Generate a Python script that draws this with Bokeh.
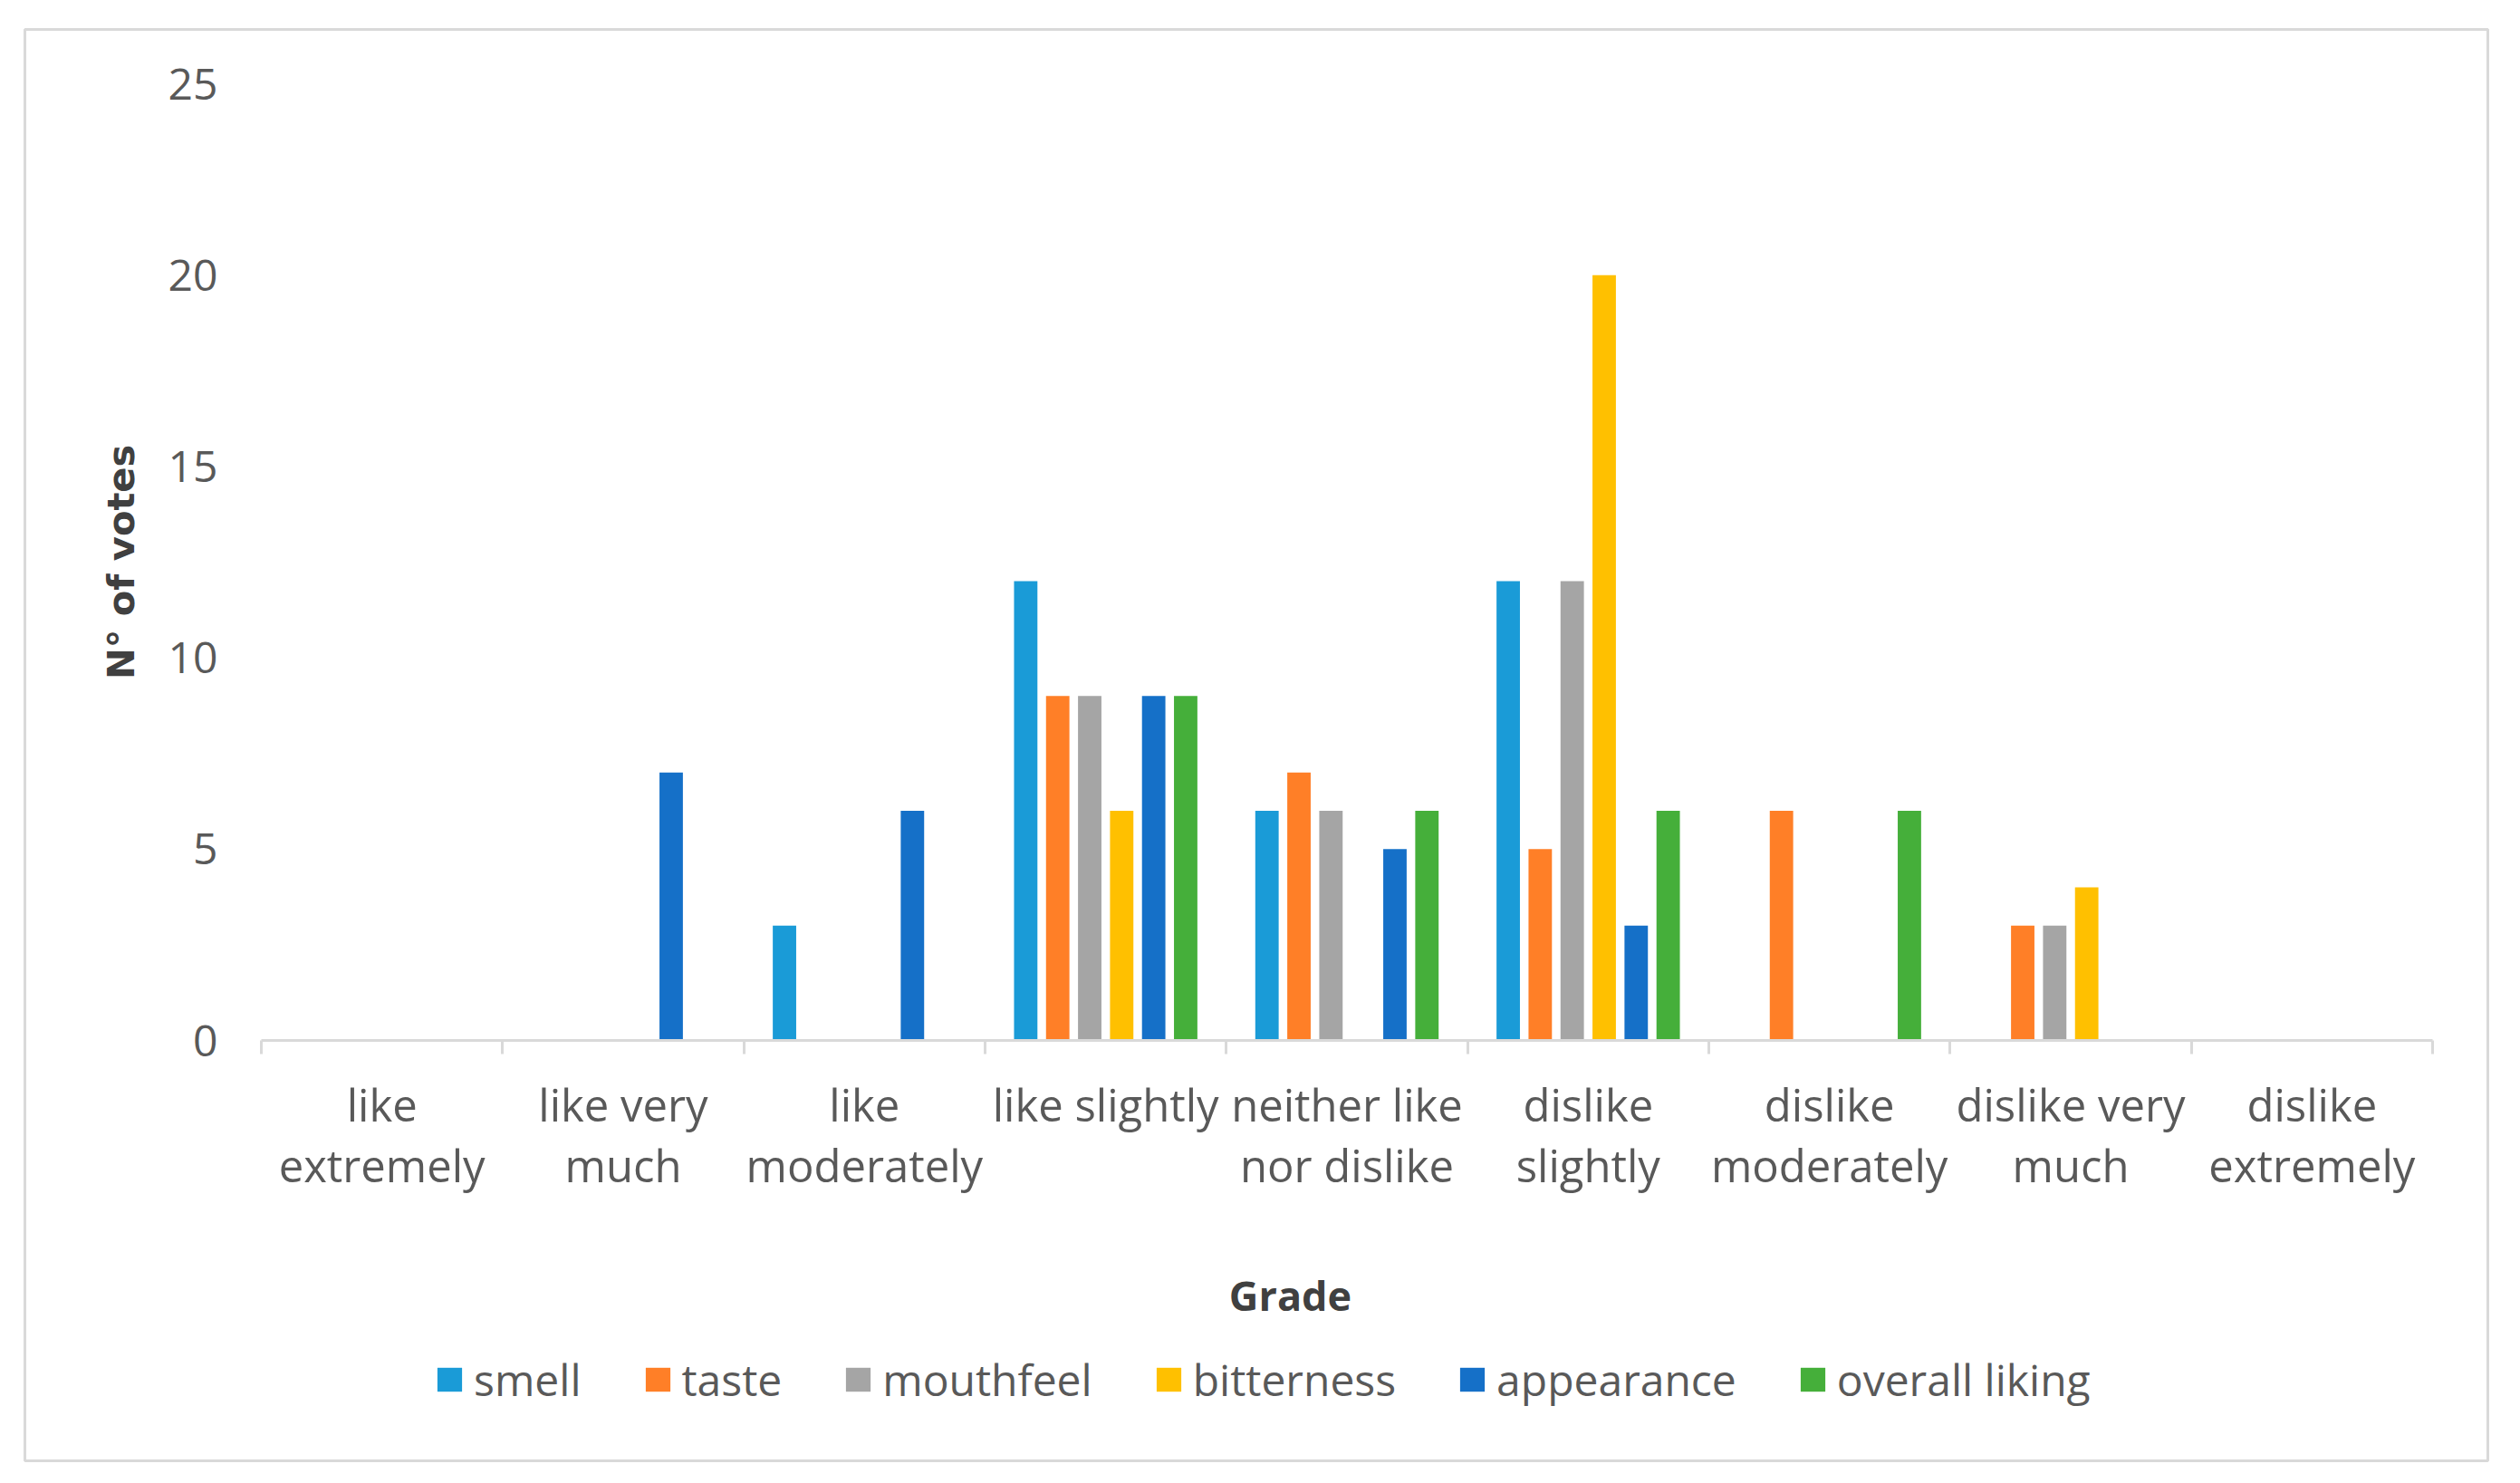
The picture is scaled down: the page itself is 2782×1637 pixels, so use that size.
import math
from bokeh.plotting import figure
from bokeh.models import Range1d, FixedTicker, ColumnDataSource, Legend, LegendItem, Label
from bokeh.transform import dodge
from bokeh.embed import file_html
from bokeh.resources import INLINE

categories = ["like extremely", "like very much", "like moderately", "like slightly",
              "neither like nor dislike", "dislike slightly", "dislike moderately",
              "dislike very much", "dislike extremely"]
category_labels = ["like\nextremely", "like very\nmuch", "like\nmoderately", "like slightly",
                   "neither like\nnor dislike", "dislike\nslightly", "dislike\nmoderately",
                   "dislike very\nmuch", "dislike\nextremely"]
series_names = ["smell", "taste", "mouthfeel", "bitterness", "appearance", "overall liking"]
smell = [0, 0, 3, 12, 6, 12, 0, 0, 0]
taste = [0, 0, 0, 9, 7, 5, 6, 3, 0]
mouthfeel = [0, 0, 0, 9, 6, 12, 0, 3, 0]
bitterness = [0, 0, 0, 6, 0, 20, 0, 4, 0]
appearance = [0, 7, 6, 9, 5, 3, 0, 0, 0]
overall_liking = [0, 0, 0, 9, 6, 6, 6, 0, 0]
y_ticks = [0, 5, 10, 15, 20, 25]
y_max = 25
colors = ["#1A9BD7", "#FF7F27", "#A5A5A5", "#FFC000", "#1570C8", "#45AF3A"]

series_values = [smell, taste, mouthfeel, bitterness, appearance, overall_liking]
n = len(categories)
centers = [i + 0.5 for i in range(n)]
data = {"x": centers}
for name, vals in zip(series_names, series_values):
    data[name] = vals
source = ColumnDataSource(data)

# layout (pixels): chart box and plotting area
W, H = 2766, 1621
box_l, box_t, box_r, box_b = 27, 32, 2746, 1612     # border box
area_l, area_r, area_t, area_b = 288, 2685, 92, 1148  # plotting area
px_x = (area_r - area_l) / n
px_y = (area_b - area_t) / y_max
x0 = -(area_l - box_l) / px_x
x1 = n + (box_r - area_r) / px_x
y0 = -(box_b - area_b) / px_y
y1 = y_max + (area_t - box_t) / px_y

p = figure(width=W, height=H, x_range=Range1d(x0, x1), y_range=Range1d(y0, y1),
           output_backend="svg", toolbar_location=None,
           min_border_left=box_l, min_border_right=W - box_r,
           min_border_top=box_t, min_border_bottom=H - box_b)
p.background_fill_color = "white"
p.border_fill_color = "white"
p.outline_line_color = "#D9D9D9"
p.outline_line_width = 3
p.grid.visible = False

step = 0.1326
bw = 0.097
renderers = []
for k, (name, col) in enumerate(zip(series_names, colors)):
    r = p.vbar(x=dodge("x", (k - 2.5) * step, range=None), top=name, width=bw,
               source=source, fill_color=col, line_color=None)
    renderers.append(r)

# x axis
xa = p.xaxis[0]
xa.fixed_location = 0
xa.bounds = (0, n)
xa.ticker = FixedTicker(ticks=centers, minor_ticks=list(range(n + 1)))
xa.major_label_overrides = {c: lab for c, lab in zip(centers, category_labels)}
xa.axis_line_color = "#D9D9D9"
xa.axis_line_width = 3
xa.major_tick_out = 0
xa.major_tick_in = 0
xa.minor_tick_out = 15
xa.minor_tick_in = 0
xa.minor_tick_line_color = "#D9D9D9"
xa.minor_tick_line_width = 3
xa.major_label_standoff = 22
xa.major_label_text_font = "Open Sans"
xa.major_label_text_font_size = "49px"
xa.major_label_text_color = "#595959"
xa.major_label_text_line_height = 1.03

# y axis
ya = p.yaxis[0]
ya.fixed_location = 0
ya.bounds = (0, y_max)
ya.ticker = FixedTicker(ticks=y_ticks)
ya.axis_line_color = None
ya.major_tick_line_color = None
ya.minor_tick_line_color = None
ya.major_tick_out = 0
ya.major_tick_in = 0
ya.major_label_standoff = 48
ya.major_label_text_font = "Open Sans"
ya.major_label_text_font_size = "48px"
ya.major_label_text_color = "#595959"

p.add_layout(Label(x=-155 / px_x, y=y_max / 2, text="N° of votes", angle=math.pi / 2,
                   text_align="center", text_baseline="middle",
                   text_font="DejaVu Sans", text_font_style="bold", text_font_size="41.5px",
                   text_color="#404040"))

p.add_layout(Label(x=(1424 - area_l) / px_x, y=-(1429 - area_b) / px_y, text="Grade",
                   text_align="center", text_baseline="middle",
                   text_font="Open Sans", text_font_style="bold", text_font_size="45px",
                   text_color="#404040"))

legend = Legend(items=[LegendItem(label=nm, renderers=[r]) for nm, r in zip(series_names, renderers)],
                orientation="horizontal", location=(452, 57),
                glyph_width=34, glyph_height=33, label_standoff=10, spacing=67,
                padding=0, margin=0, border_line_color=None, background_fill_alpha=0,
                label_text_font="Open Sans", label_text_font_size="48px",
                label_text_color="#595959")
p.add_layout(legend)

open("out.html", "w").write(file_html(p, INLINE))
